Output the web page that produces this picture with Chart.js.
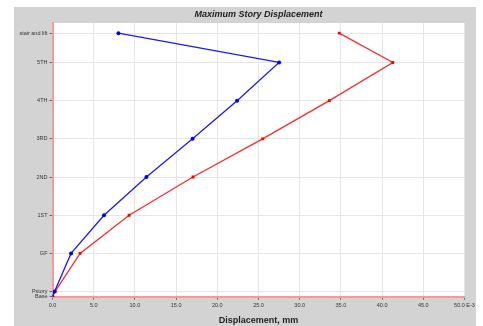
<!DOCTYPE html>
<html>
<head>
<meta charset="utf-8">
<script src="https://cdn.jsdelivr.net/npm/chart.js@4.4.1/dist/chart.umd.min.js"></script>
<style>
  html, body { margin: 0; padding: 0; background: #fff; }
  #wrap { width: 483px; height: 326px; }
</style>
</head>
<body>
<div id="wrap"><canvas id="storyChart" width="483" height="326"></canvas></div>
<script>
// storey labels and their elevations (m)
const storyLabels = ["Base", "Pstory", "GF", "1ST", "2ND", "3RD", "4TH", "5TH", "stair and lift"];
const storyLevels = [0, 0.4, 3.4, 6.4, 9.4, 12.4, 15.4, 18.4, 20.7];

// max displacement per storey, E-3 mm
const blueDisp = [0, 0.25, 2.25, 6.25, 11.4, 17.0, 22.4, 27.5, 8.0];
const redDisp = [0, 0.3, 3.35, 9.3, 17.05, 25.5, 33.6, 41.3, 34.8];

const xTicks = [0, 5, 10, 15, 20, 25, 30, 35, 40, 45, 50];

function toPoints(values) {
  return values.map((v, i) => ({ x: v, y: storyLevels[i] }));
}

const panelBackground = {
  id: "panelBackground",
  beforeDraw(chart) {
    const ctx = chart.ctx;
    const area = chart.chartArea;
    ctx.save();
    ctx.fillStyle = "#ffffff";
    ctx.fillRect(0, 0, chart.width, chart.height);
    ctx.fillStyle = "#d3d3d3";
    ctx.fillRect(14, 7, 462, 319);
    ctx.fillStyle = "#ffffff";
    ctx.fillRect(area.left, area.top, area.right - area.left, area.bottom - area.top);
    ctx.restore();
  },
};

const fontFamily = "'Liberation Sans', Arial, sans-serif";

new Chart(document.getElementById("storyChart"), {
  type: "line",
  data: {
    datasets: [
      {
        label: "Blue",
        data: toPoints(blueDisp),
        borderColor: "#1a1aff",
        backgroundColor: "#0000ff",
        borderWidth: 1.3,
        pointStyle: "circle",
        pointRadius: 2,
        pointBorderWidth: 0,
        tension: 0,
      },
      {
        label: "Red",
        data: toPoints(redDisp),
        borderColor: "#ff2a2a",
        backgroundColor: "#ff0000",
        borderWidth: 1.3,
        pointStyle: "rect",
        pointRadius: 2,
        pointBorderWidth: 0,
        tension: 0,
      },
    ],
  },
  options: {
    responsive: false,
    animation: false,
    layout: { padding: { left: 0, right: 18.5, top: 0, bottom: 0 } },
    plugins: {
      legend: { display: false },
      tooltip: { enabled: false },
      title: {
        display: true,
        fullSize: false,
        text: "Maximum Story Displacement",
        color: "#222",
        font: { family: fontFamily, size: 9, weight: "bold", style: "italic", lineHeight: 1.2 },
        padding: { top: 9, bottom: 3.2 },
      },
    },
    scales: {
      x: {
        type: "linear",
        min: 0,
        max: 50,
        afterBuildTicks: (scale) => {
          scale.ticks = xTicks.map((v) => ({ value: v }));
        },
        afterFit: (scale) => {
          scale.height = 29.3;
        },
        ticks: {
          autoSkip: false,
          maxRotation: 0,
          color: "#333",
          font: { family: fontFamily, size: 5.5 },
          padding: 2,
          callback: (value) => (value === 50 ? "50.0 E-3" : value.toFixed(1)),
        },
        grid: { color: "#e6e6e6", tickColor: "#666", tickLength: 3, lineWidth: 1 },
        border: { color: "#f59a9a", width: 2 },
        title: {
          display: true,
          text: "Displacement, mm",
          color: "#222",
          font: { family: fontFamily, size: 9, weight: "bold" },
          padding: { top: 2, bottom: 0 },
        },
      },
      y: {
        type: "linear",
        min: 0,
        max: 21.5,
        afterBuildTicks: (scale) => {
          scale.ticks = storyLevels.map((v) => ({ value: v }));
        },
        afterFit: (scale) => {
          scale.width = 52.5;
        },
        ticks: {
          autoSkip: false,
          color: "#333",
          font: { family: fontFamily, size: 5.5 },
          padding: 2,
          callback: (value, index) => storyLabels[index],
        },
        grid: { color: "#e6e6e6", tickColor: "#666", tickLength: 3, lineWidth: 1 },
        border: { color: "#f59a9a", width: 2 },
      },
    },
  },
  plugins: [panelBackground],
});
</script>
</body>
</html>
